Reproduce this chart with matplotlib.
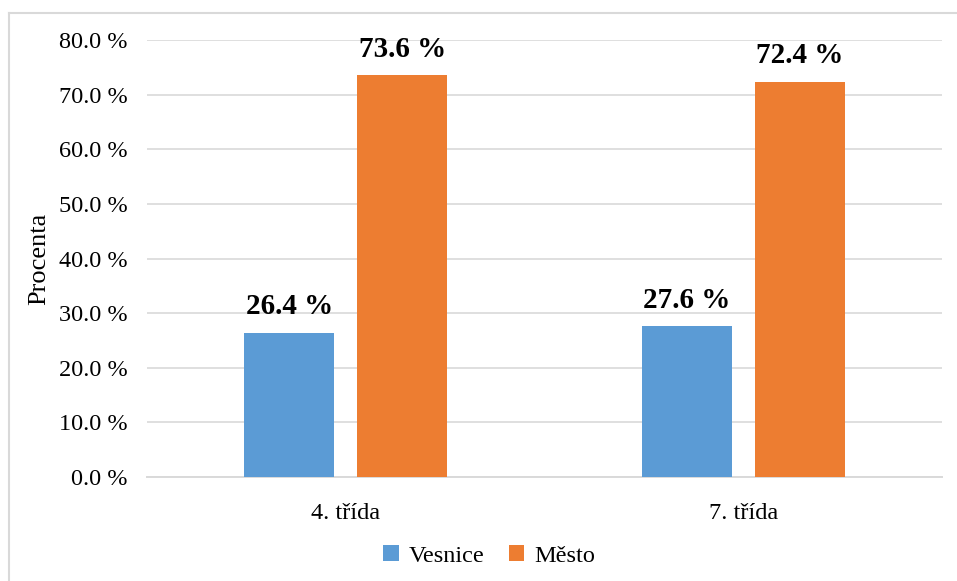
import numpy as np
import matplotlib.pyplot as plt
from matplotlib.lines import Line2D

plt.rcParams['font.family'] = ['Liberation Serif', 'DejaVu Serif']

tridy = ['4. třída', '7. třída']
vesnice = [26.4, 27.6]
mesto = [73.6, 72.4]
yticks = np.arange(0, 90, 10)

fig = plt.figure(figsize=(9.57, 5.81), dpi=100)
ax = fig.add_axes([0.1536, 0.179, 0.8307, 0.752])

x = np.arange(len(tridy))
w = 0.226
gap = 0.058
b1 = ax.bar(x - (w + gap) / 2, vesnice, w, color='#5B9BD5', label='Vesnice', zorder=3)
b2 = ax.bar(x + (w + gap) / 2, mesto, w, color='#ED7D31', label='Město', zorder=3)

for bars, vals in ((b1, vesnice), (b2, mesto)):
    for rect, v in zip(bars, vals):
        ax.annotate(f'{v:.1f} %', (rect.get_x() + rect.get_width() / 2, v),
                    xytext=(0, 9), textcoords='offset points', ha='center', va='bottom',
                    fontsize=21, fontweight='bold', zorder=4)

ax.set_xlim(-0.5, 1.5)
ax.set_ylim(0, 80)
ax.set_yticks(yticks)
ax.set_yticklabels([f'{t:.1f} %' for t in yticks], fontsize=17.5)
ax.set_xticks(x)
ax.set_xticklabels(tridy, fontsize=17.5)
ax.tick_params(length=0)
ax.tick_params(axis='x', pad=19)
ax.tick_params(axis='y', pad=14)
ax.grid(axis='y', color='#d9d9d9', lw=1.2, zorder=0)
for s in ('top', 'right', 'left'):
    ax.spines[s].set_visible(False)
ax.spines['bottom'].set_color('#d9d9d9')
ax.spines['bottom'].set_linewidth(1.4)
ax.set_ylabel('Procenta', fontsize=19, labelpad=6)

fig.legend(handles=[b1, b2], loc='center', bbox_to_anchor=(489 / 957, 1 - 556 / 581),
           ncol=2, frameon=False, fontsize=17.5, handlelength=0.65, handleheight=0.65,
           handletextpad=0.4, columnspacing=1.0)

# okraj grafu
fig.add_artist(Line2D([9 / 957, 1], [1 - 13 / 581] * 2, color='#d9d9d9', lw=1.5,
                      transform=fig.transFigure))
fig.add_artist(Line2D([9 / 957] * 2, [0, 1 - 13 / 581], color='#d9d9d9', lw=1.5,
                      transform=fig.transFigure))

fig.savefig('out.png', dpi=100)
